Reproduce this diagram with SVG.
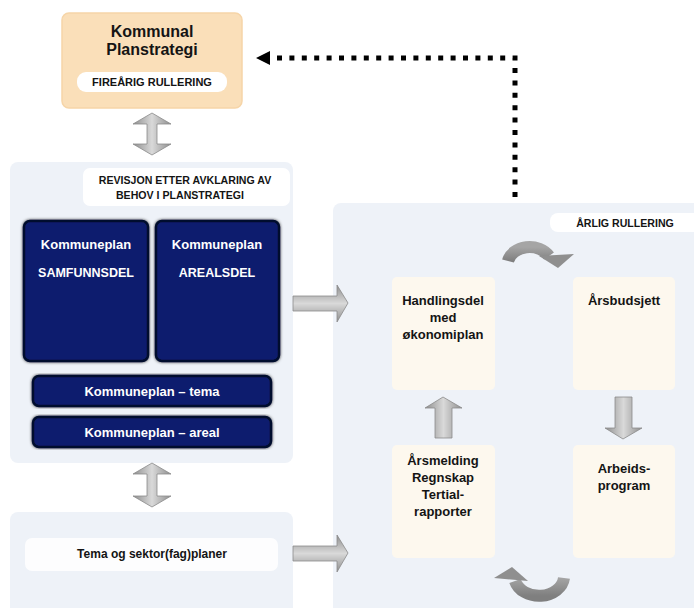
<svg xmlns="http://www.w3.org/2000/svg" width="694" height="608" viewBox="0 0 694 608">
<defs>
<style>
text{font-family:"Liberation Sans",Arial,sans-serif;font-weight:bold;text-anchor:middle;fill:#141414}
.panel{fill:#eef2f8}
.pill{fill:#ffffff}
.cream{fill:#fdf8ee}
.navy{fill:#0d1f6e;stroke:#040b2e;stroke-width:2.5}
.wt{fill:#ffffff}
.t13{font-size:13px}
.t12{font-size:12px}
.cap{font-size:10.6px}
.vgray{fill:url(#gv);stroke:#8a8a8a;stroke-width:0.8}
.hgray{fill:url(#gh);stroke:#8a8a8a;stroke-width:0.8}
.dots{fill:none;stroke:#000;stroke-width:5;stroke-dasharray:5 7.4}
</style>
<linearGradient id="gv" x1="0" y1="0" x2="1" y2="0">
<stop offset="0" stop-color="#8f8f8f"/><stop offset="0.5" stop-color="#d9d9d9"/><stop offset="1" stop-color="#8f8f8f"/>
</linearGradient>
<linearGradient id="gh" x1="0" y1="0" x2="0" y2="1">
<stop offset="0" stop-color="#8f8f8f"/><stop offset="0.5" stop-color="#d9d9d9"/><stop offset="1" stop-color="#8f8f8f"/>
</linearGradient>
<linearGradient id="gc" x1="0" y1="0" x2="0" y2="1">
<stop offset="0" stop-color="#a5a5a5"/><stop offset="1" stop-color="#7f7f7f"/>
</linearGradient>
<filter id="glow" x="-10%" y="-10%" width="120%" height="120%">
<feGaussianBlur in="SourceAlpha" stdDeviation="1.5" result="b"/>
<feFlood flood-color="#000000" flood-opacity="0.8"/>
<feComposite in2="b" operator="in" result="s"/>
<feMerge><feMergeNode in="s"/><feMergeNode in="SourceGraphic"/></feMerge>
</filter>
</defs>
<rect width="694" height="608" fill="#ffffff"/>

<g id="node-kommunal-planstrategi">
<rect x="62" y="13" width="180" height="95" rx="7" fill="#fadfb9" stroke="#f6d5a8" stroke-width="1.5"/>
<text class="t13" x="152" y="37" style="font-size:16px">Kommunal</text>
<text class="t13" x="152" y="55" style="font-size:16px">Planstrategi</text>
<rect class="pill" x="77" y="72" width="150" height="20" rx="9"/>
<text class="cap" x="152" y="86" style="font-size:11px">FIREÅRIG RULLERING</text>
</g>

<g id="node-kommuneplan-panel">
<rect class="panel" x="10" y="162" width="283" height="301" rx="8"/>
<rect class="pill" x="83" y="168" width="207" height="38" rx="7"/>
<text class="cap" x="185" y="184">REVISJON ETTER AVKLARING AV</text>
<text class="cap" x="180" y="199">BEHOV I PLANSTRATEGI</text>
</g>

<g id="node-samfunnsdel">
<rect class="navy" x="24" y="221" width="124" height="140" rx="6" filter="url(#glow)"/>
<text class="t13 wt" x="86" y="249">Kommuneplan</text>
<text class="t13 wt" x="86" y="277" style="font-size:12.5px">SAMFUNNSDEL</text>
</g>

<g id="node-arealsdel">
<rect class="navy" x="156" y="221" width="123" height="140" rx="6" filter="url(#glow)"/>
<text class="t13 wt" x="217" y="249">Kommuneplan</text>
<text class="t13 wt" x="217" y="277" style="font-size:12.5px">AREALSDEL</text>
</g>

<g id="node-tema">
<rect class="navy" x="33" y="376" width="238" height="30" rx="6" filter="url(#glow)"/>
<text class="t13 wt" x="152" y="396">Kommuneplan – tema</text>
</g>

<g id="node-areal">
<rect class="navy" x="33" y="417" width="238" height="30" rx="6" filter="url(#glow)"/>
<text class="t13 wt" x="152" y="437">Kommuneplan – areal</text>
</g>

<g id="node-tema-sektor">
<rect class="panel" x="10" y="512" width="283" height="104" rx="8"/>
<rect class="pill" x="25" y="538" width="253" height="33" rx="7" fill-opacity="0.85"/>
<text class="t12" x="152" y="558">Tema og sektor(fag)planer</text>
</g>

<g id="node-arlig-rullering">
<rect class="panel" x="333" y="203" width="370" height="413" rx="8"/>
<rect class="pill" x="550" y="213" width="152" height="19" rx="8"/>
<text class="cap" x="625" y="227">ÅRLIG RULLERING</text>
</g>

<g id="node-handlingsdel">
<rect class="cream" x="392" y="277" width="103" height="113" rx="5"/>
<text class="t13" x="443" y="305">Handlingsdel</text>
<text class="t13" x="443" y="322">med</text>
<text class="t13" x="443" y="339">økonomiplan</text>
</g>

<g id="node-arsbudsjett">
<rect class="cream" x="573" y="277" width="102" height="113" rx="5"/>
<text class="t13" x="624" y="305">Årsbudsjett</text>
</g>

<g id="node-arsmelding">
<rect class="cream" x="392" y="445" width="103" height="113" rx="5"/>
<text class="t13" x="443" y="465">Årsmelding</text>
<text class="t13" x="443" y="482">Regnskap</text>
<text class="t13" x="443" y="499">Tertial-</text>
<text class="t13" x="443" y="516">rapporter</text>
</g>

<g id="node-arbeidsprogram">
<rect class="cream" x="573" y="445" width="102" height="113" rx="5"/>
<text class="t13" x="624" y="473">Arbeids-</text>
<text class="t13" x="624" y="490">program</text>
</g>

<g id="connectors">
<!-- double arrows -->
<path class="vgray" d="M152,113 L171,124 L157,124 L157,144 L171,144 L152,155 L133,144 L147,144 L147,124 L133,124 Z"/>
<path class="vgray" d="M152,463 L171,474 L157,474 L157,496 L171,496 L152,507 L133,496 L147,496 L147,474 L133,474 Z"/>
<!-- right arrows -->
<path class="hgray" d="M293,296 L337,296 L337,285 L348,303 L337,322 L337,311 L293,311 Z"/>
<path class="hgray" d="M293,546 L337,546 L337,535 L348,553 L337,572 L337,561 L293,561 Z"/>
<!-- up / down arrows -->
<path class="vgray" d="M443,397 L462,408 L452,408 L452,438 L435,438 L435,408 L425,408 Z"/>
<path class="vgray" d="M615,397 L632,397 L632,428 L642,428 L623,439 L605,428 L615,428 Z"/>
<!-- curved arrows -->
<path d="M508,261 A22,17 0 0 1 549,256" fill="none" stroke="url(#gc)" stroke-width="12"/>
<path d="M539,256 L574,254 L558,268 Z" fill="#8f8f8f"/>
<path d="M564,578 A25,20 0 0 1 515,581" fill="none" stroke="url(#gc)" stroke-width="12"/>
<path d="M494,578 L512,567 L528,581 Z" fill="#8f8f8f"/>
<!-- dotted feedback arrow -->
<path class="dots" d="M515,197 L515,58 L268,58"/>
<path d="M256,58 L270,51 L270,65 Z" fill="#000"/>
</g>
</svg>
